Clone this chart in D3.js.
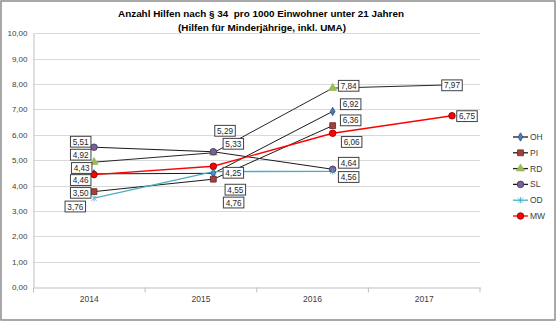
<!DOCTYPE html>
<html>
<head>
<meta charset="utf-8">
<script src="https://cdn.jsdelivr.net/npm/d3@7"></script>
<style>
  body { margin: 0; background: #fff; }
  svg { font-family: "Liberation Sans", Arial, sans-serif; }
</style>
</head>
<body>
<svg id="drawing_region"></svg>
<script>
// data
const years = ["2014", "2015", "2016", "2017"];
const seriesNames = ["OH", "PI", "RD", "SL", "OD", "MW"];
const OH = [4.46, 4.48, 6.92, null];
const PI = [3.76, 4.25, 6.36, null];
const RD = [4.92, 5.29, 7.84, 7.97];
const SL = [5.51, 5.33, 4.64, null];
const OD = [3.50, 4.55, 4.56, null];
const MW = [4.43, 4.76, 6.06, 6.75];
const yTicks = [0, 1, 2, 3, 4, 5, 6, 7, 8, 9, 10];
const values = { OH, PI, RD, SL, OD, MW };

// styles
const style = {
    OH: { line: "#1a1a1a", fill: "#4a7ebb", stroke: "#2c4d75", shape: "diamond" },
    PI: { line: "#1a1a1a", fill: "#a5403d", stroke: "#632523", shape: "square" },
    RD: { line: "#262626", fill: "#9bbb59", stroke: "#9bbb59", shape: "triangle" },
    SL: { line: "#1a1a1a", fill: "#7a5f9e", stroke: "#3f3151", shape: "circle" },
    OD: { line: "#4bacc6", fill: "none", stroke: "#4bacc6", shape: "star" },
    MW: { line: "#ff0000", fill: "#ff0000", stroke: "#7f0000", shape: "circle" }
};

// label box offsets relative to point (manually placed in the original)
const labelOffset = {
    "SL-0": [-13.3, -5.5], "RD-0": [-13.3, -7.5], "MW-0": [-12.3, -6.6],
    "OH-0": [-13.3, 6.2], "OD-0": [-13.3, -5.4], "PI-0": [-18.7, 14.9],
    "RD-1": [11.7, -22], "SL-1": [20, -8], "PI-1": [20, -6.4],
    "OD-1": [22, 18.1], "MW-1": [20.3, 36.3],
    "RD-2": [16, -2.3], "OH-2": [18, -7.2], "PI-2": [18, -5.3],
    "MW-2": [19, 8.7], "SL-2": [16, -6.5], "OD-2": [16, 5.7],
    "RD-3": [0, 0.5], "MW-3": [15, 0.4]
};

const width = 557, height = 322;
const svg = d3.select("#drawing_region")
    .attr("width", width)
    .attr("height", height);

svg.append("rect")
    .attr("x", 1).attr("y", 1)
    .attr("width", 554).attr("height", 319)
    .attr("fill", "#fff")
    .attr("stroke", "#8c8c8c")
    .attr("stroke-width", 1.5);

// title
const title = svg.append("text")
    .attr("text-anchor", "middle")
    .attr("font-weight", "bold")
    .attr("font-size", 9.9)
    .attr("fill", "#000")
    .style("white-space", "pre");
title.append("tspan").attr("x", 261).attr("y", 17)
    .text("Anzahl Hilfen nach § 34  pro 1000 Einwohner unter 21 Jahren");
title.append("tspan").attr("x", 262).attr("y", 31)
    .text("(Hilfen für Minderjährige, inkl. UMA)");

// scales
const xband = d3.scaleBand().domain(years).range([33.5, 480]);
const xpoint = d3.scalePoint().domain(years).range([94, 452]);
const yscale = d3.scaleLinear().domain([0, 10]).range([287, 33.3]);

// gridlines
svg.append("g")
    .selectAll("line")
    .data(yTicks.slice(1))
    .join("line")
    .attr("x1", 33.5).attr("x2", 480)
    .attr("y1", d => Math.round(yscale(d)) + 0.5)
    .attr("y2", d => Math.round(yscale(d)) + 0.5)
    .attr("stroke", "#d9d9d9");

// y axis
const yaxis = d3.axisLeft(yscale)
    .tickValues(yTicks)
    .tickSize(0)
    .tickPadding(6)
    .tickFormat(d => d3.format(".2f")(d).replace(".", ","));
const yg = svg.append("g")
    .attr("transform", "translate(33.5,0)")
    .call(yaxis);
yg.select(".domain").attr("stroke", "#bfbfbf");
yg.selectAll("text").attr("font-size", 8).attr("fill", "#404040")
    .attr("font-family", "Liberation Sans, Arial, sans-serif");

// x axis
const xaxis = d3.axisBottom(xband).tickSize(0).tickPadding(8);
const xg = svg.append("g")
    .attr("transform", "translate(0,287.5)")
    .call(xaxis);
xg.select(".domain").attr("stroke", "#bfbfbf");
xg.selectAll("text").attr("font-size", 8.5).attr("fill", "#404040")
    .attr("font-family", "Liberation Sans, Arial, sans-serif");
xg.selectAll("line.sep")
    .data(d3.range(years.length + 1))
    .join("line")
    .attr("class", "sep")
    .attr("x1", i => xband.range()[0] + i * xband.step())
    .attr("x2", i => xband.range()[0] + i * xband.step())
    .attr("y1", 0).attr("y2", 5)
    .attr("stroke", "#bfbfbf");

// markers
function markerPath(shape) {
    if (shape === "diamond") return d3.symbol(d3.symbolDiamond, 20)();
    if (shape === "square") return d3.symbol(d3.symbolSquare, 34)();
    if (shape === "triangle") return d3.symbol(d3.symbolTriangle, 28)();
    if (shape === "circle") return d3.symbol(d3.symbolCircle, 34)();
    return "M-2.6,-2.6L2.6,2.6M-2.6,2.6L2.6,-2.6M0,-3.2L0,3.2";
}

function drawMarker(g, name, x, y) {
    const s = style[name];
    g.append("path")
        .attr("d", markerPath(s.shape))
        .attr("transform", `translate(${x},${y})`)
        .attr("fill", s.fill)
        .attr("stroke", s.stroke)
        .attr("stroke-width", 0.8);
}

const line = d3.line()
    .defined(d => d.v !== null)
    .x(d => xpoint(d.year))
    .y(d => yscale(d.v));

const plot = svg.append("g");
seriesNames.forEach(name => {
    const pts = years.map((year, i) => ({ year, v: values[name][i] }));
    plot.append("path")
        .datum(pts)
        .attr("d", line)
        .attr("fill", "none")
        .attr("stroke", style[name].line)
        .attr("stroke-width", name === "OD" || name === "MW" ? 1.3 : 1);
});
seriesNames.forEach(name => {
    years.forEach((year, i) => {
        const v = values[name][i];
        if (v === null) return;
        drawMarker(plot, name, xpoint(year), yscale(v));
    });
});

// data labels
const labels = svg.append("g");
seriesNames.forEach(name => {
    years.forEach((year, i) => {
        const v = values[name][i];
        const off = labelOffset[name + "-" + i];
        if (v === null || !off) return;
        const cx = xpoint(year) + off[0];
        const cy = yscale(v) + off[1];
        labels.append("rect")
            .attr("x", cx - 10.25).attr("y", cy - 5.4)
            .attr("width", 20.5).attr("height", 10.8)
            .attr("fill", "#fff")
            .attr("stroke", "#404040")
            .attr("stroke-width", 1);
        labels.append("text")
            .attr("x", cx).attr("y", cy + 3)
            .attr("text-anchor", "middle")
            .attr("font-size", 8.2)
            .attr("fill", "#262626")
            .text(d3.format(".2f")(v).replace(".", ","));
    });
});

// legend
const legend = svg.append("g");
seriesNames.forEach((name, i) => {
    const y = 137 + i * 15.8;
    const g = legend.append("g");
    g.append("line")
        .attr("x1", 513).attr("x2", 528)
        .attr("y1", y).attr("y2", y)
        .attr("stroke", style[name].line)
        .attr("stroke-width", 1.3);
    drawMarker(g, name, 520.5, y);
    g.append("text")
        .attr("x", 530).attr("y", y + 3)
        .attr("font-size", 8.5)
        .attr("fill", "#404040")
        .text(name);
});
</script>
</body>
</html>
